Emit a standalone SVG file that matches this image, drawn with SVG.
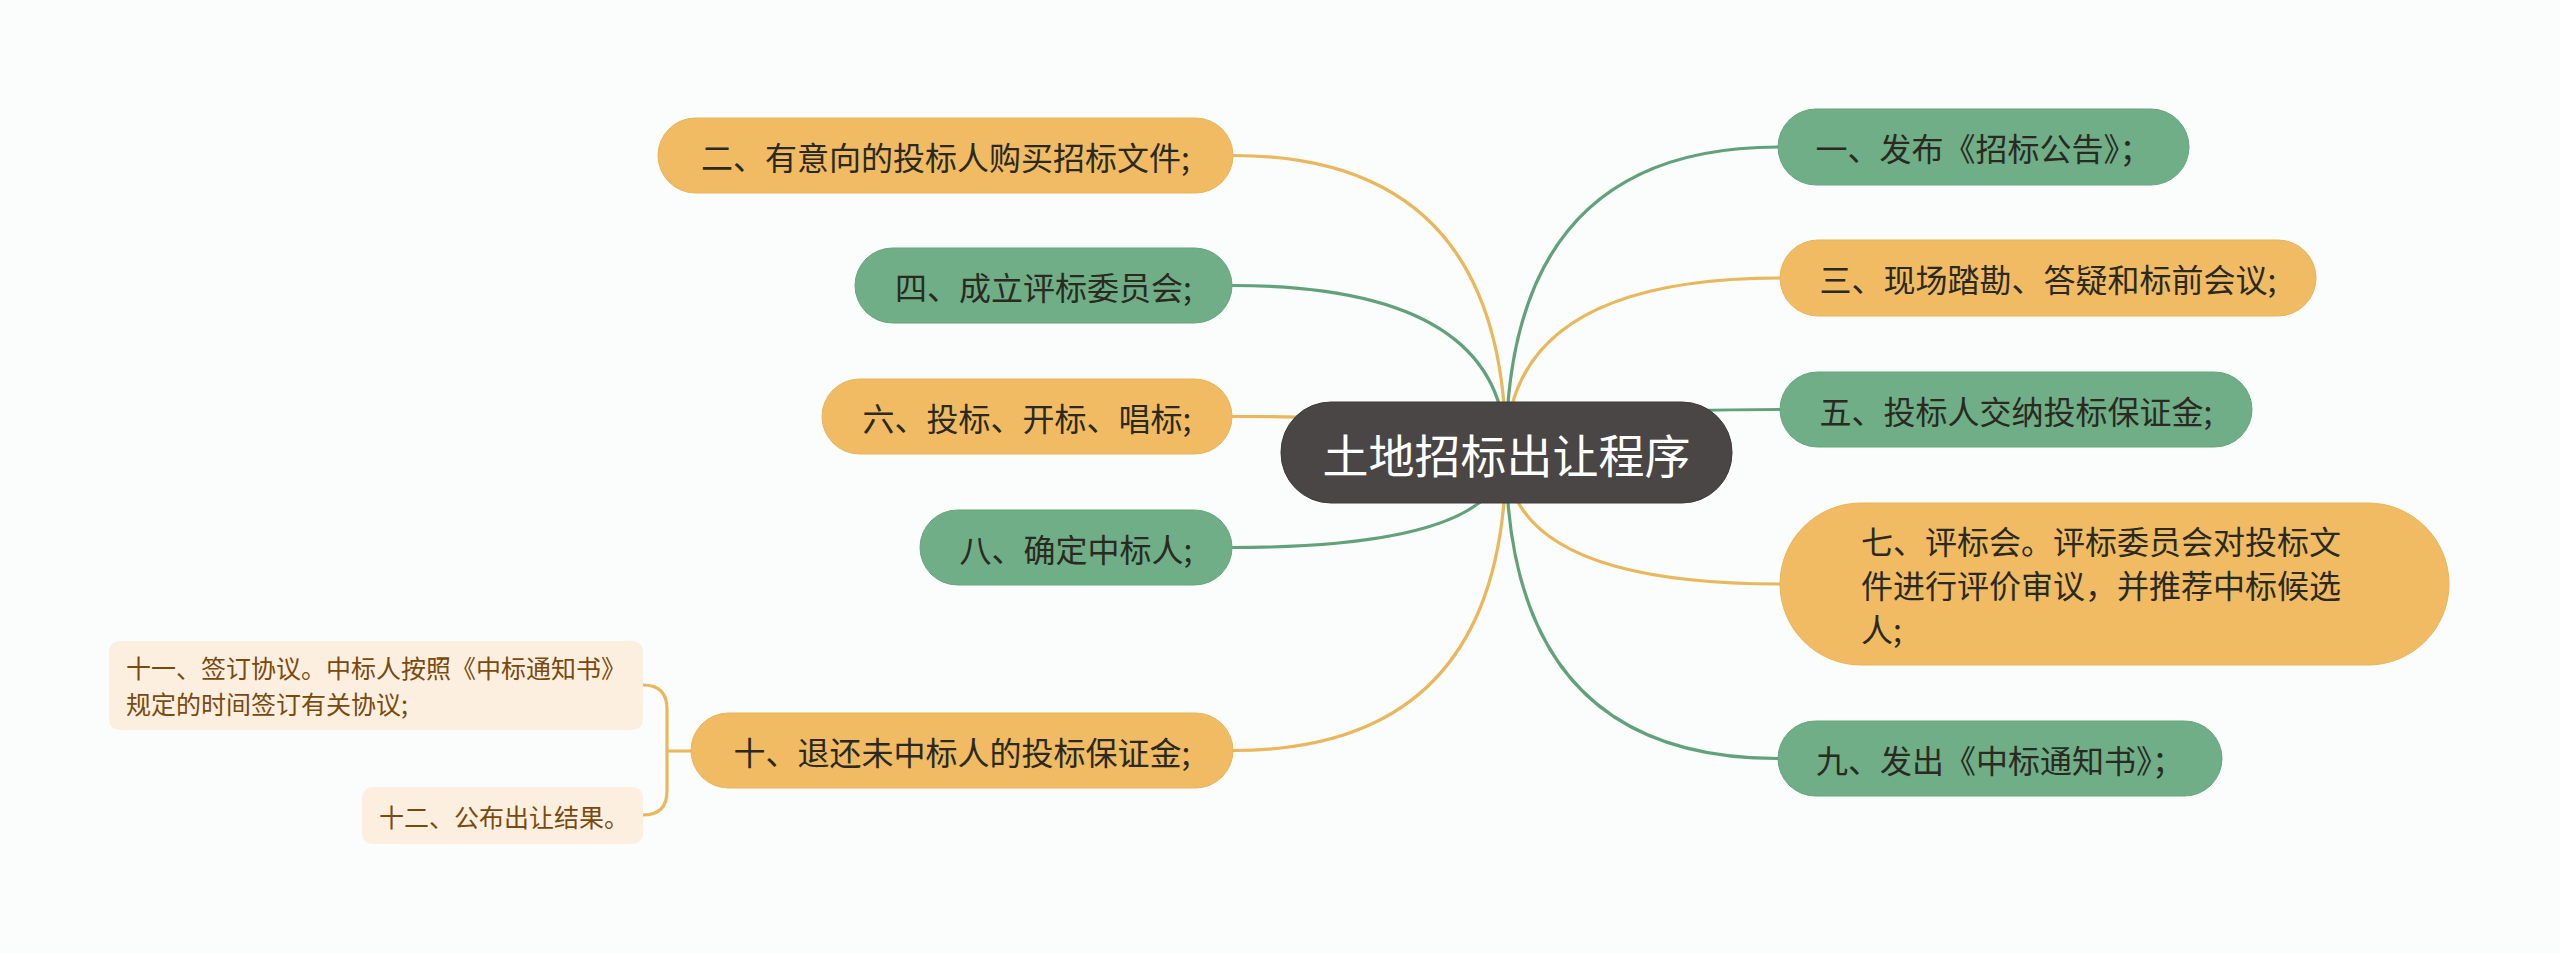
<svg xmlns="http://www.w3.org/2000/svg" width="2560" height="953" viewBox="0 0 2560 953">
<style>
.bg{fill:#fafdfc}
.g{fill:#6fae86;stroke:#66a67d;stroke-width:1}
.o{fill:#f0bb62;stroke:#e9b45a;stroke-width:1}
.c{fill:#4b4646;stroke:#3f3b3b;stroke-width:1}
.ch{fill:#fdefe0}
.t{font-family:"Noto Sans CJK SC","Noto Sans",sans-serif;font-size:32px;fill:#2a2a22;dominant-baseline:central;text-anchor:middle}
.tl{text-anchor:start}
.tc{font-family:"Noto Sans CJK SC","Noto Sans",sans-serif;font-size:46px;fill:#ffffff;dominant-baseline:central;text-anchor:middle}
.tk{font-family:"Noto Sans CJK SC","Noto Sans",sans-serif;font-size:25px;fill:#7a4a0c;dominant-baseline:central}
.lg{fill:none;stroke:#62a27b;stroke-width:3.2}
.lo{fill:none;stroke:#ebb75c;stroke-width:3.2}
</style>
<rect class="bg" x="0" y="0" width="2560" height="953"/>
<g id="connectors">
<path class="lo" d="M1506 453 Q1506 155.5 1233 155.5"/>
<path class="lg" d="M1506 453 Q1506 285.5 1232 285.5"/>
<path class="lo" d="M1506 453 Q1506 416.5 1232 416.5"/>
<path class="lg" d="M1506 453 Q1506 547.5 1232 547.5"/>
<path class="lo" d="M1506 453 Q1506 750.5 1233 750.5"/>
<path class="lg" d="M1506 453 Q1506 147 1778 147"/>
<path class="lo" d="M1506 453 Q1506 278 1780 278"/>
<path class="lg" d="M1506 453 Q1506 409.5 1780 409.5"/>
<path class="lo" d="M1506 453 Q1506 584 1780 584"/>
<path class="lg" d="M1506 453 Q1506 758.5 1778 758.5"/>
<path class="lo" d="M691 751 L667 751 M643 685 Q667 685 667 709 L667 791 Q667 815 643 815"/>
</g>
<g id="center">
<rect class="c" x="1281" y="402" width="451" height="101" rx="50"/>
<text class="tc" x="1506.5" y="452.5">土地招标出让程序</text>
</g>
<g id="n2">
<rect class="o" x="658" y="118" width="575" height="75" rx="37.5"/>
<text class="t" x="945.5" y="155.5">二、有意向的投标人购买招标文件;</text>
</g>
<g id="n4">
<rect class="g" x="855" y="248" width="377" height="75" rx="37.5"/>
<text class="t" x="1043.5" y="285.5">四、成立评标委员会;</text>
</g>
<g id="n6">
<rect class="o" x="822" y="379" width="410" height="75" rx="37.5"/>
<text class="t" x="1027" y="416.5">六、投标、开标、唱标;</text>
</g>
<g id="n8">
<rect class="g" x="920" y="510" width="312" height="75" rx="37.5"/>
<text class="t" x="1076" y="547.5">八、确定中标人;</text>
</g>
<g id="n10">
<rect class="o" x="691" y="713" width="542" height="75" rx="37.5"/>
<text class="t" x="962" y="750.5">十、退还未中标人的投标保证金;</text>
</g>
<g id="n11">
<rect class="ch" x="109" y="641" width="534" height="89" rx="10"/>
<text class="tk" x="126" y="667">十一、签订协议。中标人按照《中标通知书》</text>
<text class="tk" x="126" y="703">规定的时间签订有关协议;</text>
</g>
<g id="n12">
<rect class="ch" x="362" y="787" width="281" height="57" rx="10"/>
<text class="tk" x="379" y="815.5">十二、公布出让结果。</text>
</g>
<g id="n1">
<rect class="g" x="1778" y="109" width="411" height="76" rx="38"/>
<text class="t" x="1983.5" y="147">一、发布《招标公告》；</text>
</g>
<g id="n3">
<rect class="o" x="1780" y="240" width="536" height="76" rx="38"/>
<text class="t" x="2048" y="278">三、现场踏勘、答疑和标前会议;</text>
</g>
<g id="n5">
<rect class="g" x="1780" y="372" width="472" height="75" rx="37.5"/>
<text class="t" x="2016" y="409.5">五、投标人交纳投标保证金;</text>
</g>
<g id="n7">
<rect class="o" x="1780" y="503" width="669" height="162" rx="81"/>
<text class="t tl" x="1861" y="540">七、评标会。评标委员会对投标文</text>
<text class="t tl" x="1861" y="584">件进行评价审议，并推荐中标候选</text>
<text class="t tl" x="1861" y="628">人;</text>
</g>
<g id="n9">
<rect class="g" x="1778" y="721" width="444" height="75" rx="37.5"/>
<text class="t" x="2000" y="758.5">九、发出《中标通知书》；</text>
</g>
</svg>
